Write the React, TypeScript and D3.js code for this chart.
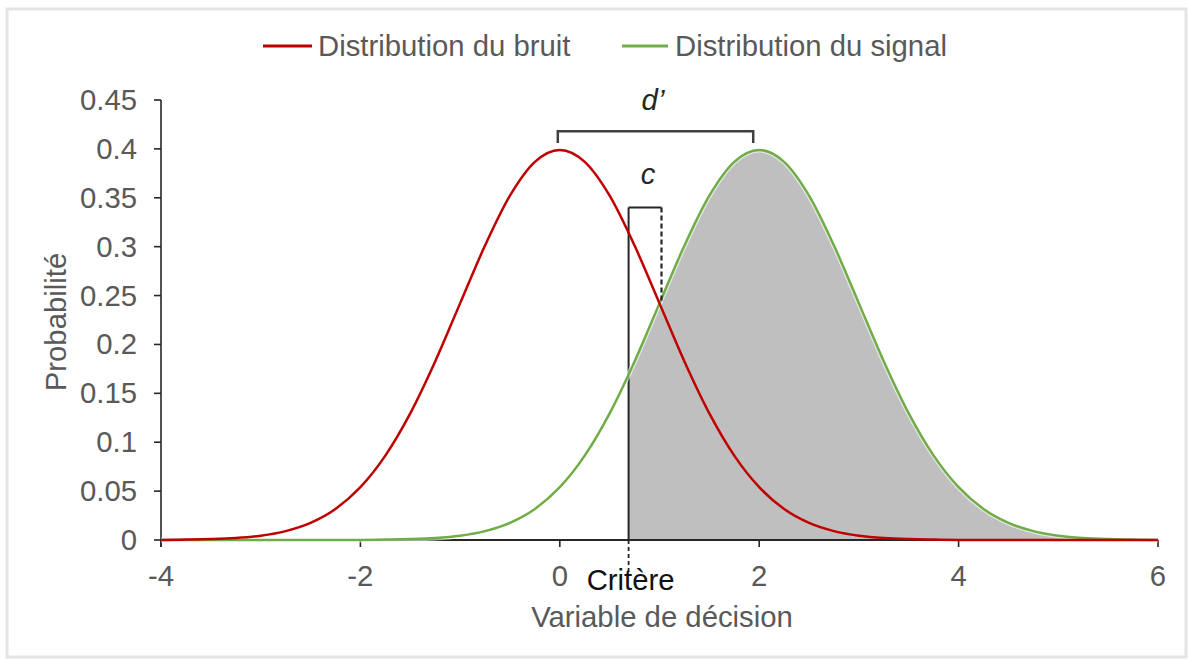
import React from "react";
import * as d3 from "d3";

// ---- data ----
const xValues = [
  -4, -3.75, -3.5, -3.25, -3, -2.75, -2.5, -2.25, -2, -1.75, -1.5, -1.25, -1, -0.75, -0.5, -0.25,
  0, 0.25, 0.5, 0.75, 1, 1.25, 1.5, 1.75, 2, 2.25, 2.5, 2.75, 3, 3.25, 3.5, 3.75,
  4, 4.25, 4.5, 4.75, 5, 5.25, 5.5, 5.75, 6,
];
const noiseValues = [
  0.0001, 0.0004, 0.0009, 0.002, 0.0044, 0.0091, 0.0175, 0.0317, 0.054, 0.0863, 0.1295, 0.1826, 0.242, 0.3011, 0.3521, 0.3867,
  0.3989, 0.3867, 0.3521, 0.3011, 0.242, 0.1826, 0.1295, 0.0863, 0.054, 0.0317, 0.0175, 0.0091, 0.0044, 0.002, 0.0009, 0.0004,
  0.0001, 0, 0, 0, 0, 0, 0, 0, 0,
];
const signalValues = [
  0, 0, 0, 0, 0, 0, 0, 0, 0.0001, 0.0004, 0.0009, 0.002, 0.0044, 0.0091, 0.0175, 0.0317,
  0.054, 0.0863, 0.1295, 0.1826, 0.242, 0.3011, 0.3521, 0.3867, 0.3989, 0.3867, 0.3521, 0.3011, 0.242, 0.1826, 0.1295, 0.0863,
  0.054, 0.0317, 0.0175, 0.0091, 0.0044, 0.002, 0.0009, 0.0004, 0.0001,
];
const xTicks = [-4, -2, 0, 2, 4, 6];
const yTicks = [0, 0.05, 0.1, 0.15, 0.2, 0.25, 0.3, 0.35, 0.4, 0.45];
const seriesNames = ["Distribution du bruit", "Distribution du signal"];
const criterion = 0.69;
const intersectionX = 1.02;
const intersectionY = 0.242;
const cBracketY = 0.34;
const dPrimeStart = -0.02;
const dPrimeEnd = 1.94;
const dPrimeY = 0.418;
const dPrimeTickY = 0.406;

const W = 1190;
const H = 659;
const RED = "#C00000";
const GREEN = "#70AD47";
const GREY_TXT = "#595959";
const AXIS = "#262626";
const FONT = "'Liberation Sans', Arial, sans-serif";

export default function App() {
  const x = d3.scaleLinear().domain([-4, 6]).range([161, 1158]);
  const y = d3.scaleLinear().domain([0, 0.45]).range([540, 100]);

  const noise = xValues.map((v, i) => [v, noiseValues[i]] as [number, number]);
  const signal = xValues.map((v, i) => [v, signalValues[i]] as [number, number]);

  const line = d3
    .line<[number, number]>()
    .x((d) => x(d[0]))
    .y((d) => y(d[1]))
    .curve(d3.curveMonotoneX);
  const area = d3
    .area<[number, number]>()
    .x((d) => x(d[0]))
    .y0(y(0))
    .y1((d) => y(d[1]))
    .curve(d3.curveMonotoneX);

  const fs = 29.3;

  return (
    <svg
      width={W}
      height={H}
      style={{ position: "absolute", left: 0, top: 0, background: "#fff" }}
      fontFamily={FONT}
    >
      <defs>
        <clipPath id="critClip">
          <rect x={x(criterion)} y={0} width={x(6) - x(criterion) + 2} height={y(0) + 1} />
        </clipPath>
      </defs>
      <rect x={7} y={9} width={1179} height={648} fill="#fff" stroke="#e4e4e4" strokeWidth={3} />

      {/* legend */}
      <line x1={263} x2={312} y1={46} y2={46} stroke={RED} strokeWidth={3} />
      <text x={318} y={56} fontSize={fs} fill={GREY_TXT}>{seriesNames[0]}</text>
      <line x1={622} x2={668} y1={46} y2={46} stroke={GREEN} strokeWidth={3} />
      <text x={675} y={56} fontSize={fs} fill={GREY_TXT}>{seriesNames[1]}</text>

      {/* shaded area under signal right of criterion */}
      <path d={area(signal) || ""} fill="#BFBFBF" clipPath="url(#critClip)" />

      {/* y axis */}
      <line x1={x(-4)} x2={x(-4)} y1={y(0.45)} y2={y(0) + 7} stroke={AXIS} strokeWidth={1.6} />
      {yTicks.map((t) => (
        <g key={"y" + t}>
          <line x1={x(-4) - 7} x2={x(-4)} y1={y(t)} y2={y(t)} stroke={AXIS} strokeWidth={1.6} />
          <text x={137} y={y(t) + 10} fontSize={fs} fill={GREY_TXT} textAnchor="end">
            {String(t)}
          </text>
        </g>
      ))}
      {/* x axis */}
      <line x1={x(-4)} x2={x(6)} y1={y(0)} y2={y(0)} stroke={AXIS} strokeWidth={1.8} />
      {xTicks.map((t) => (
        <g key={"x" + t}>
          <line x1={x(t)} x2={x(t)} y1={y(0)} y2={y(0) + 7} stroke={AXIS} strokeWidth={1.6} />
          <text x={x(t)} y={586} fontSize={fs} fill={GREY_TXT} textAnchor="middle">
            {String(t)}
          </text>
        </g>
      ))}

      {/* axis titles */}
      <text x={662} y={627} fontSize={fs} fill={GREY_TXT} textAnchor="middle">
        Variable de décision
      </text>
      <text
        transform={`translate(66,322) rotate(-90)`}
        fontSize={fs}
        fill={GREY_TXT}
        textAnchor="middle"
      >
        Probabilité
      </text>

      {/* criterion line */}
      <line x1={x(criterion)} x2={x(criterion)} y1={y(cBracketY)} y2={y(0)} stroke={AXIS} strokeWidth={2} />
      <line
        x1={x(criterion)}
        x2={x(criterion)}
        y1={y(0)}
        y2={y(0) + 34}
        stroke={AXIS}
        strokeWidth={1.8}
        strokeDasharray="4,3"
      />
      <text x={x(criterion) + 2} y={590} fontSize={fs} fill="#111" textAnchor="middle">
        Critère
      </text>

      {/* curves */}
      <path d={line(signal) || ""} fill="none" stroke="#fff" strokeWidth={5} strokeOpacity={0.6} />
      <path d={line(signal) || ""} fill="none" stroke={GREEN} strokeWidth={2.5} />
      <path d={line(noise) || ""} fill="none" stroke={RED} strokeWidth={2.5} />

      {/* c bracket */}
      <path
        d={`M${x(criterion)},${y(cBracketY)} H${x(intersectionX)}`}
        fill="none"
        stroke={AXIS}
        strokeWidth={2}
      />
      <line
        x1={x(intersectionX)}
        x2={x(intersectionX)}
        y1={y(cBracketY)}
        y2={y(intersectionY)}
        stroke={AXIS}
        strokeWidth={2.2}
        strokeDasharray="5,3"
      />
      <text x={648} y={184} fontSize={fs} fontStyle="italic" fill="#262626" textAnchor="middle">
        c
      </text>

      {/* d' bracket */}
      <path
        d={`M${x(dPrimeStart)},${y(dPrimeTickY)} V${y(dPrimeY)} H${x(dPrimeEnd)} V${y(dPrimeTickY)}`}
        fill="none"
        stroke="#404040"
        strokeWidth={2.5}
      />
      <text x={653} y={110} fontSize={fs} fontStyle="italic" fill="#262626" textAnchor="middle">
        d’
      </text>
    </svg>
  );
}
